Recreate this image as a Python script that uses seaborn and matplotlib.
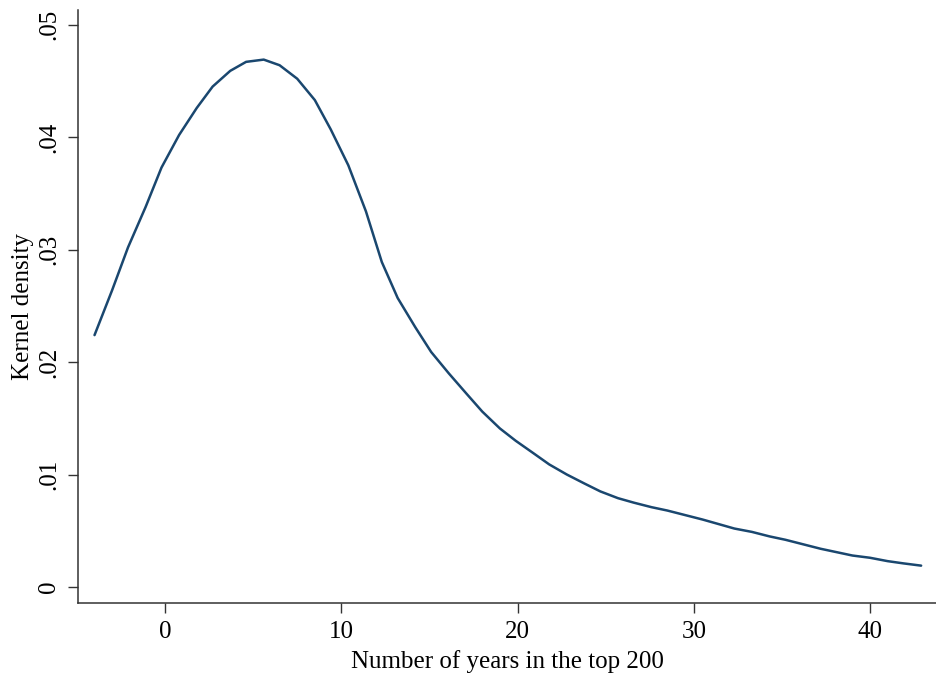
import numpy as np
import pandas as pd
import matplotlib.pyplot as plt
import seaborn as sns

# values (kernel density, 50 evaluation points)
years = [-4.0, -3.0, -2.1, -1.1, -0.2, 0.8, 1.8, 2.7, 3.7, 4.6,
         5.6, 6.5, 7.5, 8.5, 9.4, 10.4, 11.4, 12.3, 13.2, 14.2,
         15.1, 16.1, 17.1, 18.0, 19.0, 19.9, 20.9, 21.8, 22.8, 23.8,
         24.7, 25.7, 26.6, 27.6, 28.5, 29.5, 30.5, 31.4, 32.3, 33.3,
         34.3, 35.2, 36.2, 37.2, 38.1, 39.0, 40.0, 41.0, 41.9, 42.9]
density = [0.0224, 0.0264, 0.0302, 0.0338, 0.0373, 0.0402, 0.0426, 0.0445, 0.0459, 0.0467,
           0.0469, 0.0464, 0.0452, 0.0433, 0.0407, 0.0375, 0.0334, 0.0289, 0.0257, 0.0231,
           0.0209, 0.0190, 0.0172, 0.0156, 0.0141, 0.0130, 0.0119, 0.0109, 0.0100, 0.0092,
           0.0085, 0.0079, 0.0075, 0.0071, 0.0068, 0.0064, 0.0060, 0.0056, 0.0052, 0.0049,
           0.0045, 0.0042, 0.0038, 0.0034, 0.0031, 0.0028, 0.0026, 0.0023, 0.0021, 0.0019]

xticks = [0, 10, 20, 30, 40]
yticks = [0, 0.01, 0.02, 0.03, 0.04, 0.05]
ytick_labels = ['0', '.01', '.02', '.03', '.04', '.05']

df = pd.DataFrame({'years': years, 'density': density})

sns.set_style('ticks')
plt.rcParams['font.family'] = ['Liberation Serif', 'DejaVu Serif']

fig = plt.figure(figsize=(9.37, 6.75), dpi=100)
ax = fig.add_axes([0.0832, 0.1067, 0.9168, 0.8783])

sns.lineplot(data=df, x='years', y='density', color='#1a476f', linewidth=1.8, ax=ax)

ax.set_xlim(-4.94, 43.8)
ax.set_ylim(-0.00142, 0.0513)
ax.set_xticks(xticks)
ax.set_xticklabels([str(t) for t in xticks])
ax.set_yticks(yticks)
ax.set_yticklabels(ytick_labels, rotation=90, va='center')

ax.tick_params(axis='both', length=7, width=1, color='#333333', labelsize=18, labelcolor='black', pad=6)
for side in ['left', 'bottom']:
    ax.spines[side].set_linewidth(1.1)
    ax.spines[side].set_color('#333333')
sns.despine(ax=ax)

ax.set_xlabel('Number of years in the top 200', fontsize=18, labelpad=5, color='black')
ax.set_ylabel('Kernel density', fontsize=18, labelpad=3, color='black')

fig.savefig('out.png', dpi=100)
